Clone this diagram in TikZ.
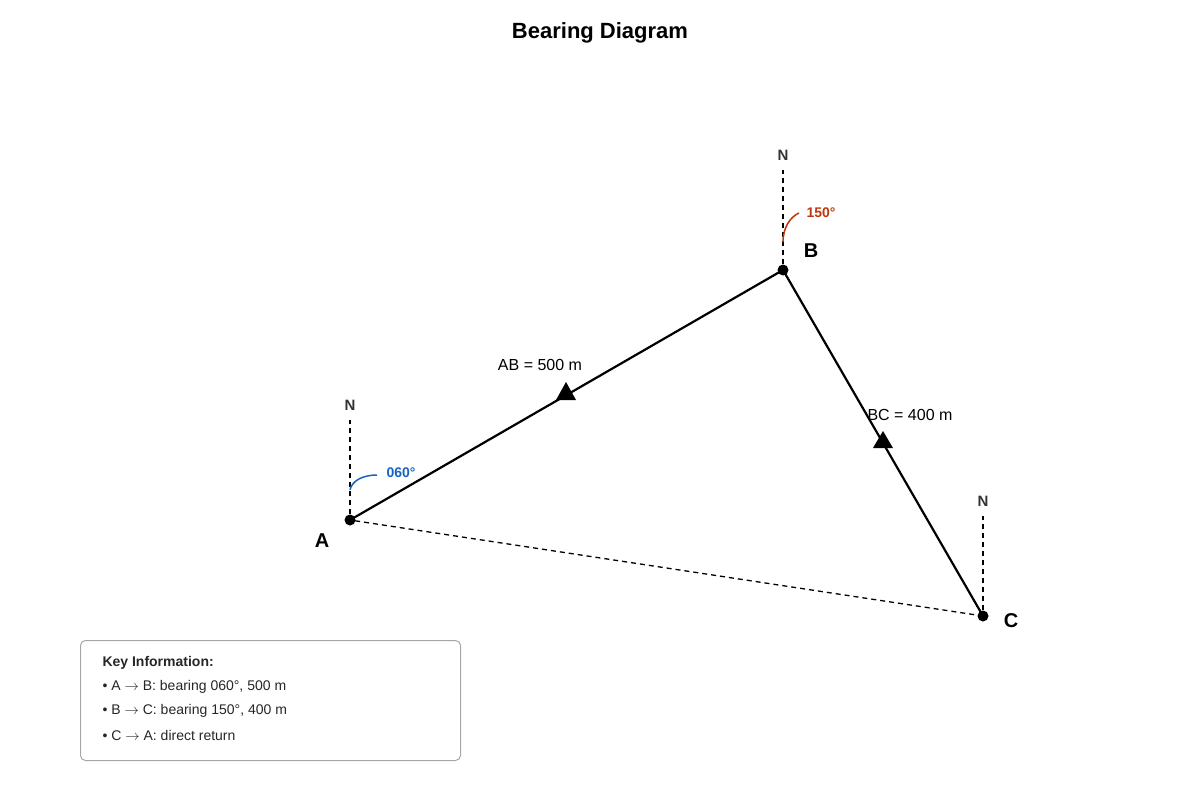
\documentclass[tikz,border=0pt]{standalone}
\usepackage{fontspec}
\setmainfont{Liberation Sans}
\begin{document}
\begin{tikzpicture}[x=1pt,y=-1pt,
  pt/.style={circle,fill=black,inner sep=0pt,minimum size=11pt},
  lbl/.style={font=\fontsize{20}{24}\selectfont\bfseries},
  nlbl/.style={font=\fontsize{15}{18}\selectfont\bfseries,text=black!80},
  north/.style={dashed,line width=1.3pt,dash pattern=on 5pt off 4pt},
  leg/.style={line width=2.2pt},
  tri/.style={fill=black,draw=none,regular polygon,regular polygon sides=3,inner sep=0pt,minimum size=21pt},
  dist/.style={font=\fontsize{16}{19}\selectfont},
  keyt/.style={font=\fontsize{14}{17}\selectfont,text=black!85,anchor=west}]
\useasboundingbox (0,0) rectangle (1200,800);
\node[font=\fontsize{22}{26}\selectfont\bfseries] (title) at (600,33) {Bearing Diagram};
\node[pt] (A) at (350,520) {};
\node[pt] (B) at (783,270) {};
\node[pt] (C) at (983,616) {};
\node[lbl] (la) at (322,541) {A};
\node[lbl] (lb) at (811,251) {B};
\node[lbl] (lc) at (1011,621) {C};
\node[nlbl] (nA) at (350,405) {N};
\node[nlbl] (nB) at (783,155) {N};
\node[nlbl] (nC) at (983,501) {N};
\coordinate (tA) at (350,420);
\coordinate (tB) at (783,170);
\coordinate (tC) at (983,516);
\draw[north] (A) -- (tA);
\draw[north] (B) -- (tB);
\draw[north] (C) -- (tC);
\draw[leg] (A.center) -- (B.center);
\draw[leg] (B.center) -- (C.center);
\draw[north] (C.center) -- (A.center);
\node[dist] (dab) at (540,365) {AB = 500 m};
\node[dist] (dbc) at (910,415) {BC = 400 m};
\path[fill=black] (566,382) -- (576,400) -- (556,400) -- cycle;
\path[fill=black] (883,431) -- (893,448) -- (873,448) -- cycle;
\coordinate (a1) at (350,490);
\coordinate (a2) at (377,475);
\draw[line width=1.5pt,color={rgb,255:red,21;green,101;blue,192}] (a1) .. controls (352,480) and (364,475) .. (a2);
\node[font=\fontsize{14}{17}\selectfont\bfseries,text={rgb,255:red,21;green,101;blue,192},anchor=west] (g1) at (383,473) {060°};
\coordinate (b1) at (783,242);
\coordinate (b2) at (799,213);
\draw[line width=1.5pt,color={rgb,255:red,191;green,54;blue,12}] (b1) .. controls (783,228) and (790,217) .. (b2);
\node[font=\fontsize{14}{17}\selectfont\bfseries,text={rgb,255:red,191;green,54;blue,12},anchor=west] (g2) at (803,213) {150°};
\node[draw=black!35,line width=1pt,rounded corners=5pt,minimum width=380pt,minimum height=120pt,anchor=north west] (key) at (80,640) {};
\node[keyt,font=\fontsize{14}{17}\selectfont\bfseries] (k0) at (99,663) {Key Information:};
\node[keyt] (k1) at (99,687) {• A $\rightarrow$ B: bearing 060°, 500 m};
\node[keyt] (k2) at (99,711) {• B $\rightarrow$ C: bearing 150°, 400 m};
\node[keyt] (k3) at (99,735) {• C $\rightarrow$ A: direct return};
\end{tikzpicture}
\end{document}
